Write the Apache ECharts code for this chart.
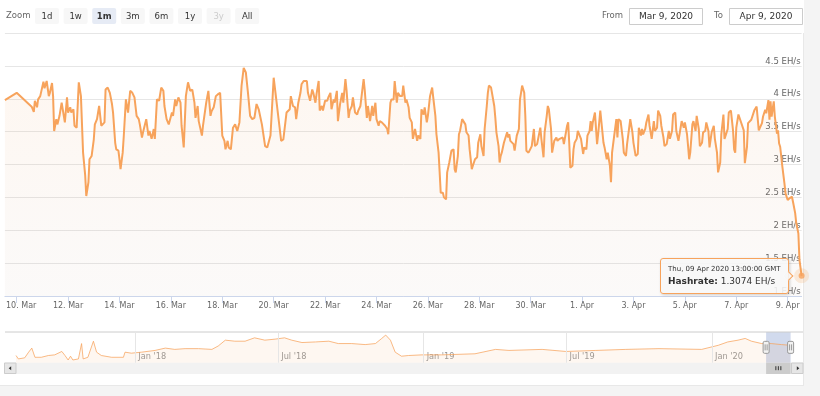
<!DOCTYPE html>
<html><head><meta charset="utf-8">
<script src="https://cdn.jsdelivr.net/npm/echarts@6/dist/echarts.min.js"></script>
<style>html,body{margin:0;padding:0;background:#fff;overflow:hidden}#chart{width:820px;height:396px}</style>
</head><body><div id="chart"></div>
<script>
// ---------- DATA ----------
const seriesStart = '2020-03-09T13:00:00Z';
const seriesEnd = '2020-04-09T13:00:00Z';
// hours after seriesStart
const hoursFromStart = [
0,11,25,27,28,30,31,33,34,36,37,39,41,42,44,45,46,48,49,51,53,55,56,58,59,61,62,64,65,67,69,71,73,75,76,78,79,81,83,84,86,88,90,93,94,96,98,100,101,103,104,106,107,108,110,111,113,114,115,117,119,121,123,125,126,128,129,132,134,135,137,139,140,142,144,146,148,149,151,153,154,156,157,159,160,162,164,165,167,169,171,173,175,177,178,180,181,184,185,188,190,192,193,195,197,199,201,203,205,206,208,209,211,213,215,217,219,221,223,225,227,229,231,233,235,237,240,241,243,245,
248,251,258,260,263,266,267,269,271,272,274,276,277,279,282,283,285,287,288,290,291,293,294,296,297,299,301,302,304,305,307,308,310,311,313,315,316,318,319,321,322,324,325,327,329,330,332,335,336,338,339,341,343,344,346,347,349,350,352,353,355,357,358,360,361,363,364,366,367,369,371,372,374,375,377,378,380,381,383,385,386,388,389,391,392,394,395,397,399,400,402,403,405,406,407,409,410,412,413,415,417,419,420,421,423,424,425,427,428,430,431,433,434,436,437,439,441,442,444,445,447,448,450,451,452,454,455,457,458,459,461,462,463,464,466,467,469,470,471,472,473,475,476,478,480,481,482,483,485,486,487,489,490,492,494,495,497,500,
501,503,504,506,507,508,510,511,513,515,516,518,519,521,522,523,525,526,527,528,530,531,532,534,535,536,538,540,541,543,544,546,547,548,549,551,553,554,556,557,559,560,562,563,565,566,567,569,571,572,573,575,577,578,580,581,583,584,586,587,589,591,592,594,595,596,598,599,601,602,604,606,607,609,610,612,613,615,616,618,620,621,623,624,626,627,629,630,632,634,635,637,638,639,640,642,643,645,646,648,649,651,652,654,655,657,658,660,662,663,665,666,668,669,671,672,673,675,676,678,680,681,682,683,685,
686,690,691,693,694,697,700,702,704,707,708,710,711,713,714,715,716,718,719,721,722,723,724,726,728,729,731,733,735,736,738,739,741,742,744
];
// EH/s
const hashrate = [
3.98,4.09,3.88,3.80,3.97,3.87,3.99,4.04,4.07,4.26,4.16,4.27,4.04,4.09,4.24,4.04,3.51,3.69,3.61,3.74,3.94,3.74,3.64,4.02,3.79,3.87,3.79,3.84,3.59,3.56,4.25,4.04,3.18,2.83,2.52,2.73,3.08,3.13,3.38,3.61,3.69,3.89,3.59,3.64,4.14,4.17,4.09,3.92,3.79,3.33,3.23,3.21,3.08,2.93,3.18,3.43,3.99,3.89,3.79,4.12,4.09,4.02,3.74,3.69,3.61,3.41,3.49,3.69,3.44,3.51,3.39,3.54,3.39,3.99,3.97,4.17,4.12,3.89,3.69,3.61,3.59,3.79,3.74,3.99,3.89,4.02,3.94,3.59,3.26,4.04,4.25,4.12,4.14,3.94,3.71,3.89,3.66,3.44,3.59,3.94,4.12,3.74,3.81,3.87,4.04,4.07,4.09,3.44,3.36,3.23,3.36,3.26,3.23,3.56,3.61,3.51,3.64,4.20,4.47,4.40,4.09,3.74,3.69,3.71,3.92,3.84,3.61,3.59,3.28,3.26,
3.44,4.32,3.36,3.38,3.79,3.84,4.04,3.89,3.87,3.69,3.94,4.09,4.22,4.27,4.27,4.09,3.97,4.14,4.09,3.94,4.07,4.27,3.82,3.89,3.82,3.97,3.97,4.02,4.09,3.84,3.99,3.94,4.12,3.66,3.92,4.09,3.94,4.30,4.14,3.71,3.82,3.89,4.02,3.79,3.76,3.82,3.89,4.30,4.14,3.71,3.89,3.66,3.89,3.74,3.94,3.69,3.59,3.66,3.64,3.66,3.59,3.54,3.46,3.94,3.99,3.99,4.27,3.94,4.09,4.04,4.04,4.20,3.94,3.99,3.87,3.71,3.64,3.39,3.54,3.36,3.44,3.39,3.84,3.76,3.87,3.64,3.74,4.04,4.17,4.02,3.74,3.46,3.18,2.88,2.57,2.57,2.50,2.47,2.88,3.03,3.21,3.23,2.93,2.88,3.13,3.46,3.51,3.69,3.66,3.61,3.49,3.44,3.23,2.93,2.98,3.08,3.11,3.33,3.46,3.28,3.13,3.54,3.89,4.09,4.20,4.17,4.14,3.89,3.71,3.49,3.28,3.03,3.13,3.18,3.33,3.33,3.49,3.41,3.46,3.36,3.33,3.31,3.21,3.44,3.54,3.99,4.09,4.20,4.09,3.74,3.21,3.18,3.16,3.28,3.54,3.28,3.31,3.56,
3.39,3.11,3.49,3.74,3.89,3.84,3.54,3.18,3.36,3.41,3.36,3.39,3.39,3.41,3.31,3.28,3.59,3.64,3.33,2.95,2.98,3.23,3.33,3.39,3.51,3.54,3.39,3.16,3.26,3.23,3.44,3.51,3.66,3.51,3.64,3.79,3.31,3.46,3.82,3.79,3.33,3.26,3.08,3.18,2.98,2.73,3.18,3.44,3.69,3.41,3.69,3.66,3.39,3.18,3.13,3.31,3.56,3.69,3.49,3.33,3.13,3.16,3.56,3.44,3.54,3.46,3.54,3.64,3.76,3.59,3.39,3.66,3.51,3.56,3.82,3.74,3.59,3.41,3.28,3.31,3.51,3.39,3.51,3.76,3.79,3.51,3.36,3.46,3.66,3.56,3.64,3.46,3.28,3.08,3.18,3.61,3.66,3.51,3.74,3.54,3.28,3.33,3.49,3.51,3.64,3.51,3.26,3.49,3.59,3.39,3.18,2.88,3.03,3.46,3.76,3.39,3.44,3.54,3.79,3.82,3.51,3.23,3.18,3.56,3.76,
3.75,3.52,3.02,3.27,3.63,3.68,3.83,3.88,3.52,3.63,3.73,3.83,3.78,3.98,3.68,3.96,3.73,3.96,3.73,3.47,3.52,3.32,3.27,2.97,2.71,2.56,2.46,2.49,2.51,2.43,2.26,2.11,1.95,1.55,1.3074
];
const xTickDates = ['2020-03-10','2020-03-12','2020-03-14','2020-03-16','2020-03-18','2020-03-20','2020-03-22','2020-03-24','2020-03-26','2020-03-28','2020-03-30','2020-04-01','2020-04-03','2020-04-05','2020-04-07','2020-04-09'];
const xTickLabels = ['10. Mar','12. Mar','14. Mar','16. Mar','18. Mar','20. Mar','22. Mar','24. Mar','26. Mar','28. Mar','30. Mar','1. Apr','3. Apr','5. Apr','7. Apr','9. Apr'];
const yUnit = ' EH/s';

// navigator (full history)
const navStart = '2017-08-03';
const navDates = ['2017-08-03','2017-08-06','2017-08-14','2017-08-19','2017-08-23','2017-08-27','2017-09-04','2017-09-13','2017-09-21','2017-09-30','2017-10-04','2017-10-08','2017-10-11','2017-10-14','2017-10-21','2017-10-25','2017-10-27','2017-11-02','2017-11-09','2017-11-13','2017-11-19','2017-12-02','2017-12-17','2017-12-19','2017-12-27',
'2018-01-09','2018-01-26','2018-02-08','2018-02-20','2018-03-05','2018-03-22','2018-04-08','2018-04-16','2018-04-25','2018-05-07','2018-05-20','2018-06-01','2018-06-14','2018-06-27','2018-07-09','2018-07-18','2018-07-31','2018-08-17','2018-09-03','2018-09-15','2018-10-02','2018-10-19','2018-11-01','2018-11-09','2018-11-14','2018-11-20','2018-11-26','2018-12-04','2018-12-13','2018-12-30',
'2019-01-24','2019-03-07','2019-04-02','2019-04-19','2019-05-31','2019-06-30','2019-08-07','2019-09-14','2019-10-26','2019-12-19',
'2020-01-09','2020-01-21','2020-02-03','2020-02-12','2020-02-20','2020-03-04','2020-03-16','2020-03-29','2020-04-09'];
const navValues = [1.33,0.7,0.9,1.95,2.7,1.0,1.0,1.33,1.45,2.08,1.33,0.5,1.2,0.5,0.7,3.54,0.7,1.0,3.98,1.95,1.33,1.0,1.0,1.95,1.76,
1.95,2.27,2.7,2.46,2.6,2.6,2.46,3.09,4.17,3.98,3.98,4.6,4.17,4.36,4.6,4.17,3.73,3.84,3.98,3.54,3.54,3.35,3.54,4.49,5.11,4.17,1.95,1.2,1.33,1.45,
1.45,1.65,2.46,2.27,2.46,2.08,2.27,2.46,2.6,2.46,
3.22,3.84,4.17,4.49,3.98,3.54,3.54,3.35,3.22];
const navTickDates = ['2018-01-01','2018-07-01','2019-01-01','2019-07-01','2020-01-01'];
const navTickLabels = ["Jan '18","Jul '18","Jan '19","Jul '19","Jan '20"];
const selectedRange = [seriesStart, seriesEnd];

// range selector UI
const zoomButtons = ['1d','1w','1m','3m','6m','1y','3y','All'];
const activeButton = '1m';
const disabledButton = '3y';
const fromText = 'Mar 9, 2020';
const toText = 'Apr 9, 2020';

// ---------- BUILD ----------
const FONT = 'DejaVu Sans';
const ORANGE = '#f7a35c';
const t0 = Date.parse(seriesStart);
const tEnd = Date.parse(seriesEnd);
const mainData = hoursFromStart.map((h, i) => [t0 + h * 3600e3, hashrate[i]]);
const lastPoint = mainData[mainData.length - 1];
const xTickTs = xTickDates.map(d => Date.parse(d + 'T00:00:00Z'));
const navData = navDates.map((d, i) => [Date.parse(d + 'T00:00:00Z'), navValues[i]]);
const navTickTs = navTickDates.map(d => Date.parse(d + 'T00:00:00Z'));
const rangeTs = selectedRange.map(d => Date.parse(d));

function lookupIndex(ts, arr) {
  for (let i = 0; i < arr.length; i++) if (Math.abs(arr[i] - ts) < 60000) return i;
  return -1;
}

const graphics = [];
graphics.push({type:'rect', z:0, silent:true, shape:{x:804,y:0,width:16,height:396}, style:{fill:'#f4f4f4'}});
graphics.push({type:'rect', z:0, silent:true, shape:{x:0,y:386,width:820,height:10}, style:{fill:'#f4f4f4'}});
graphics.push({type:'line', z:0, silent:true, shape:{x1:803.5,y1:33,x2:803.5,y2:386}, style:{stroke:'#e8e8e8',lineWidth:1}});
graphics.push({type:'line', z:0, silent:true, shape:{x1:0,y1:385.5,x2:804,y2:385.5}, style:{stroke:'#e8e8e8',lineWidth:1}});
graphics.push({type:'text', z:5, silent:true, style:{text:'Zoom', x:6, y:16, fill:'#666', font:'8.5px "'+FONT+'"', align:'left', verticalAlign:'middle'}});
zoomButtons.forEach((b, i) => {
  const bx = 35 + i * 28.6;
  const active = b === activeButton;
  const disabled = b === disabledButton;
  graphics.push({type:'rect', z:5, silent:true, shape:{x:bx,y:8,width:24,height:16,r:2}, style:{fill: active ? '#e6ebf5' : '#f7f7f7'}});
  graphics.push({type:'text', z:6, silent:true, style:{text:b, x:bx+12, y:16.5, fill: disabled ? '#cccccc' : '#333333', font:(active?'bold ':'')+'8.5px "'+FONT+'"', align:'center', verticalAlign:'middle'}});
});
graphics.push({type:'text', z:5, silent:true, style:{text:'From', x:623, y:16, fill:'#666', font:'8.5px "'+FONT+'"', align:'right', verticalAlign:'middle'}});
graphics.push({type:'rect', z:5, silent:true, shape:{x:629.5,y:8.5,width:73,height:16}, style:{fill:'#fff', stroke:'#cccccc', lineWidth:1}});
graphics.push({type:'text', z:6, silent:true, style:{text:fromText, x:666, y:16.5, fill:'#333', font:'9px "'+FONT+'"', align:'center', verticalAlign:'middle'}});
graphics.push({type:'text', z:5, silent:true, style:{text:'To', x:723, y:16, fill:'#666', font:'8.5px "'+FONT+'"', align:'right', verticalAlign:'middle'}});
graphics.push({type:'rect', z:5, silent:true, shape:{x:729.5,y:8.5,width:73,height:16}, style:{fill:'#fff', stroke:'#cccccc', lineWidth:1}});
graphics.push({type:'text', z:6, silent:true, style:{text:toText, x:766, y:16.5, fill:'#333', font:'9px "'+FONT+'"', align:'center', verticalAlign:'middle'}});
graphics.push({type:'line', z:5, silent:true, shape:{x1:5,y1:332,x2:803,y2:332}, style:{stroke:'#cccccc',lineWidth:1}});
graphics.push({type:'rect', z:1, silent:true, shape:{x:4,y:362.7,width:799,height:11.3}, style:{fill:'#f2f2f2'}});
graphics.push({type:'rect', z:5, silent:true, shape:{x:4.5,y:363,width:11.5,height:10.5}, style:{fill:'#e6e6e6', stroke:'#cccccc', lineWidth:1}});
graphics.push({type:'polygon', z:6, silent:true, shape:{points:[[8.7,368.3],[11.2,366.3],[11.2,370.3]]}, style:{fill:'#333'}});
graphics.push({type:'rect', z:5, silent:true, shape:{x:791.5,y:363,width:11.5,height:10.5}, style:{fill:'#e6e6e6', stroke:'#cccccc', lineWidth:1}});
graphics.push({type:'polygon', z:6, silent:true, shape:{points:[[799.3,368.3],[796.8,366.3],[796.8,370.3]]}, style:{fill:'#333'}});

const chart = echarts.init(document.getElementById('chart'), null, {renderer:'canvas'});
const option = {
  animation: false,
  backgroundColor: '#ffffff',
  textStyle: {fontFamily: FONT},
  grid: [
    {left: 4.9, right: 18.4, top: 33, bottom: 100, containLabel: false},
    {left: 16, right: 29.4, top: 332, bottom: 33.3, containLabel: false}
  ],
  tooltip: {
    trigger: 'item', triggerOn: 'none', alwaysShowContent: true, position: 'left',
    backgroundColor: 'rgba(247,247,247,0.88)', borderColor: ORANGE, borderWidth: 1, borderRadius: 3,
    padding: [5, 7], transitionDuration: 0, showDelay: 0,
    textStyle: {fontFamily: FONT, color: '#333', fontSize: 9},
    extraCssText: 'box-shadow:1px 1px 3px rgba(0,0,0,0.18);',
    formatter: function (p) {
      const d = new Date(p.value[0]);
      return '<div style="font-size:7px;line-height:11px;white-space:nowrap">' + d.toUTCString() + '</div>' +
             '<div style="font-size:9px;line-height:13px;white-space:nowrap"><b>Hashrate:</b> ' + p.value[1] + yUnit + '</div>';
    }
  },
  xAxis: [
    {
      type: 'value', gridIndex: 0, min: t0, max: tEnd, scale: true,
      axisLine: {lineStyle: {color: '#ccd6eb'}},
      axisTick: {show: true, customValues: xTickTs, length: 7, lineStyle: {color: '#ccd6eb'}},
      axisLabel: {customValues: xTickTs, color: '#666', fontSize: 8, margin: 6, hideOverlap: false,
        rich: {first: {color: '#666', fontSize: 8, fontFamily: FONT, padding: [0, 0, 0, 9]}},
        formatter: v => { const i = lookupIndex(v, xTickTs); if (i < 0) return ''; return i === 0 ? '{first|' + xTickLabels[i] + '}' : xTickLabels[i]; }},
      splitLine: {show: false}
    },
    {
      type: 'value', gridIndex: 1, min: Date.parse(navStart + 'T00:00:00Z'), max: tEnd, scale: true,
      axisLine: {show: false}, axisTick: {show: false}, splitLine: {show: false},
      axisLabel: {inside: true, customValues: navTickTs, color: '#999', fontSize: 8.2, margin: 2,
        align: 'left', verticalAlign: 'bottom', padding: [0, 0, 0, 3], hideOverlap: false,
        formatter: v => { const i = lookupIndex(v, navTickTs); return i < 0 ? '' : navTickLabels[i]; }}
    }
  ],
  yAxis: [
    {
      type: 'value', gridIndex: 0, position: 'right', min: 1, max: 5, interval: 0.5,
      axisLine: {show: false}, axisTick: {show: false},
      splitLine: {lineStyle: {color: '#e6e6e6'}},
      axisLabel: {inside: true, margin: 1, color: '#666', fontSize: 8.5, verticalAlign: 'bottom', lineHeight: 9,
        showMaxLabel: false, formatter: v => v + yUnit}
    },
    {type: 'value', gridIndex: 1, min: 0, max: 5.68, show: false}
  ],
  series: [
    {
      type: 'line', xAxisIndex: 0, yAxisIndex: 0, data: mainData, showSymbol: false, silent: true,
      lineStyle: {color: ORANGE, width: 2}, itemStyle: {color: ORANGE},
      areaStyle: {origin: 'start', color: new echarts.graphic.LinearGradient(0, 0, 0, 1, [
        {offset: 0, color: 'rgba(247,163,92,0.13)'}, {offset: 1, color: 'rgba(200,180,170,0.10)'}])},
      z: 2
    },
    {
      type: 'scatter', xAxisIndex: 0, yAxisIndex: 0, data: [lastPoint], symbolSize: 15, silent: true,
      itemStyle: {color: 'rgba(247,163,92,0.25)'}, z: 3, tooltip: {show: false}
    },
    {
      type: 'scatter', xAxisIndex: 0, yAxisIndex: 0, data: [lastPoint], symbolSize: 6,
      itemStyle: {color: ORANGE}, emphasis: {scale: false, itemStyle: {color: ORANGE}}, z: 4
    },
    {
      type: 'line', xAxisIndex: 1, yAxisIndex: 1, data: navData, showSymbol: false, silent: true,
      lineStyle: {color: ORANGE, width: 1, opacity: 0.75}, itemStyle: {color: ORANGE},
      areaStyle: {origin: 'start', color: 'rgba(247,163,92,0.12)'},
      markLine: {silent: true, symbol: ['none', 'none'], label: {show: false},
        lineStyle: {color: '#e6e6e6', type: 'solid', width: 1},
        data: navTickTs.map(t => ({xAxis: t}))},
      markArea: {silent: true, itemStyle: {color: 'rgba(102,133,194,0.3)'},
        data: [[{xAxis: rangeTs[0]}, {xAxis: rangeTs[1]}]]},
      z: 2
    },
    {
      type: 'custom', xAxisIndex: 1, yAxisIndex: 1, data: [[rangeTs[0], rangeTs[1]]], silent: true,
      clip: false, z: 10, encode: {x: [0, 1]},
      renderItem: function (params, api) {
        const cs = params.coordSys;
        const x0 = api.coord([api.value(0), 0])[0];
        const x1 = api.coord([api.value(1), 0])[0];
        const cy = cs.y + cs.height / 2;
        const sbY = cs.y + cs.height;
        const handle = x => ({type: 'group', children: [
          {type: 'rect', shape: {x: x - 3, y: cy - 6, width: 6, height: 12, r: 1.5}, style: {fill: '#f2f2f2', stroke: '#999', lineWidth: 1}},
          {type: 'line', shape: {x1: x - 1, y1: cy - 3, x2: x - 1, y2: cy + 3}, style: {stroke: '#999', lineWidth: 1}},
          {type: 'line', shape: {x1: x + 1, y1: cy - 3, x2: x + 1, y2: cy + 3}, style: {stroke: '#999', lineWidth: 1}}
        ]});
        const mid = (x0 + x1) / 2;
        const grip = [-2.5, 0, 2.5].map(dx => ({type: 'line',
          shape: {x1: mid + dx, y1: sbY + 3.5, x2: mid + dx, y2: sbY + 7.5}, style: {stroke: '#333', lineWidth: 1}}));
        return {type: 'group', children: [
          {type: 'rect', shape: {x: x0, y: sbY, width: x1 - x0, height: 11.3}, style: {fill: '#cccccc'}}
        ].concat(grip, [handle(x0), handle(x1)])};
      }
    }
  ],
  graphic: graphics
};
chart.setOption(option);
chart.dispatchAction({type: 'showTip', seriesIndex: 2, dataIndex: 0});
setTimeout(() => chart.dispatchAction({type: 'showTip', seriesIndex: 2, dataIndex: 0}), 50);
</script>
</body></html>
